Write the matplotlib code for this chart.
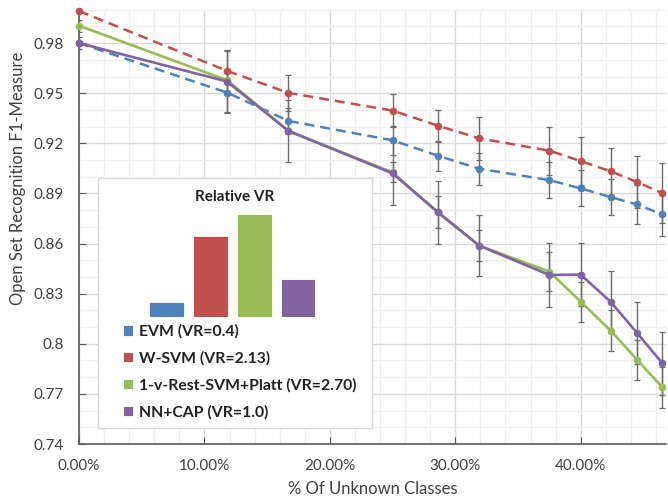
import matplotlib
matplotlib.use('Agg')
import matplotlib.pyplot as plt
from matplotlib.ticker import MultipleLocator, FixedLocator, FuncFormatter

plt.rcParams['font.family'] = ['Lato', 'DejaVu Sans']

# % of unknown classes (as fraction)
x = [0.0, 0.118, 0.167, 0.250, 0.286, 0.319, 0.375, 0.400, 0.424, 0.445, 0.465]

evm = [0.980, 0.9504, 0.9334, 0.9218, 0.9126, 0.9048, 0.898, 0.893, 0.8878, 0.8834, 0.8774]
evm_err = [0.0, 0.012, 0.008, 0.0088, 0.009, 0.0096, 0.0107, 0.0108, 0.011, 0.0114, 0.013]

wsvm = [0.9992, 0.9634, 0.9502, 0.9396, 0.9306, 0.923, 0.9156, 0.9094, 0.9032, 0.8968, 0.8902]
wsvm_err = [0.0, 0.0124, 0.0106, 0.0098, 0.0096, 0.0128, 0.0144, 0.0146, 0.014, 0.0158, 0.0178]

platt = [0.9904, 0.9578, 0.9274, 0.9026, 0.8788, 0.8588, 0.8432, 0.8252, 0.8078, 0.7904, 0.774]
platt_err = [0.0036, 0.0, 0.0, 0.006, 0.0096, 0.0094, 0.0117, 0.012, 0.0122, 0.012, 0.0122]

nncap = [0.980, 0.957, 0.9274, 0.902, 0.8788, 0.8588, 0.8412, 0.8414, 0.825, 0.8064, 0.7884]
nncap_err = [0.0038, 0.018, 0.0183, 0.019, 0.0188, 0.0184, 0.019, 0.0188, 0.0188, 0.0186, 0.0188]

y_ticks = [0.74, 0.77, 0.80, 0.83, 0.86, 0.89, 0.92, 0.95, 0.98]

vr_labels = ['EVM (VR=0.4)', 'W-SVM (VR=2.13)', '1-v-Rest-SVM+Platt (VR=2.70)', 'NN+CAP (VR=1.0)']
vr_values = [0.4, 2.13, 2.70, 1.0]

blue = '#4F81BD'
red = '#C0504D'
green = '#9BBB59'
purple = '#8064A2'
colors = [blue, red, green, purple]

fig = plt.figure(figsize=(6.68, 5.01), dpi=100)
ax = fig.add_axes([79/668, 1 - 444/501, 587/668, 434.3/501])

ax.set_xlim(0, 0.468)
ax.set_ylim(0.74, 1.0)
ax.xaxis.set_major_locator(MultipleLocator(0.10))
ax.xaxis.set_minor_locator(MultipleLocator(0.02))
ax.yaxis.set_major_locator(FixedLocator(y_ticks))
ax.yaxis.set_minor_locator(MultipleLocator(0.01))
ax.xaxis.set_major_formatter(FuncFormatter(lambda v, p: f'{v*100:.2f}%'))
ax.yaxis.set_major_formatter(FuncFormatter(lambda v, p: f'{round(v, 2):g}'))
ax.grid(which='major', color='#d9d9d9', lw=1.0)
ax.grid(which='minor', color='#efefef', lw=0.9)
ax.set_axisbelow(True)
for s in ['top', 'right']:
    ax.spines[s].set_visible(False)
for s in ['left', 'bottom']:
    ax.spines[s].set_color('#595959')
    ax.spines[s].set_linewidth(1.2)
ax.tick_params(which='major', direction='in', length=5, color='#595959', labelsize=11,
               labelcolor='#404040')
ax.tick_params(axis='x', which='major', pad=11)
ax.tick_params(axis='y', which='major', pad=11)
ax.tick_params(which='minor', length=0)
ax.set_xlabel('% Of Unknown Classes', fontsize=12, color='#404040')
ax.xaxis.set_label_coords(0.5, -(481 - 444) / 434.3)
ax.set_ylabel('Open Set Recognition F1-Measure', fontsize=12, color='#404040')
ax.yaxis.set_label_coords(-0.09, (444 - 178) / 434.3)

err_kw = dict(fmt='none', ecolor='#6b6b6b', elinewidth=1.0, capsize=2.5, capthick=0.9, zorder=3)
series = [(evm, evm_err, blue, (0, (4, 2.4))), (wsvm, wsvm_err, red, (0, (4, 2.4))),
          (platt, platt_err, green, '-'), (nncap, nncap_err, purple, '-')]
for ys, es, c, ls in series:
    ax.errorbar(x, ys, yerr=es, **err_kw)
for ys, es, c, ls in series:
    lw = 1.9 if ls == '-' else 1.8
    ax.plot(x, ys, color=c, ls=ls, lw=lw, marker='o', ms=4.5, zorder=4, clip_on=False)

# inset box
box = fig.add_axes([98/668, 1 - 428/501, 274/668, 250/501], zorder=5)
box.set_xticks([])
box.set_yticks([])
box.set_facecolor('white')
for s in box.spines.values():
    s.set_color('#d9d9d9')
    s.set_linewidth(1.0)
box.text(0.5, 1 - 19/250, 'Relative VR', transform=box.transAxes, ha='center', va='center',
         fontsize=11, fontweight='bold', color='#222222')

bax = fig.add_axes([144.7/668, 1 - 317.3/501, 175.2/668, 114.9/501], zorder=6)
bax.set_xlim(-0.5, 3.5)
bax.set_ylim(0, 3)
bax.axis('off')
bars = bax.bar(range(len(vr_values)), vr_values, width=0.79, color=colors,
               edgecolor='white', linewidth=0.6)

leg = fig.legend(bars, vr_labels, loc='upper left', bbox_to_anchor=(123/668, 1 - 324.5/501),
                 frameon=False, prop={'weight': 'bold', 'size': 11.3},
                 handlelength=0.62, handleheight=0.62, handletextpad=0.4,
                 labelspacing=0.78, borderpad=0, borderaxespad=0)
leg.set_zorder(7)
for t in leg.get_texts():
    t.set_color('#222222')

fig.savefig('out.png', dpi=100)
